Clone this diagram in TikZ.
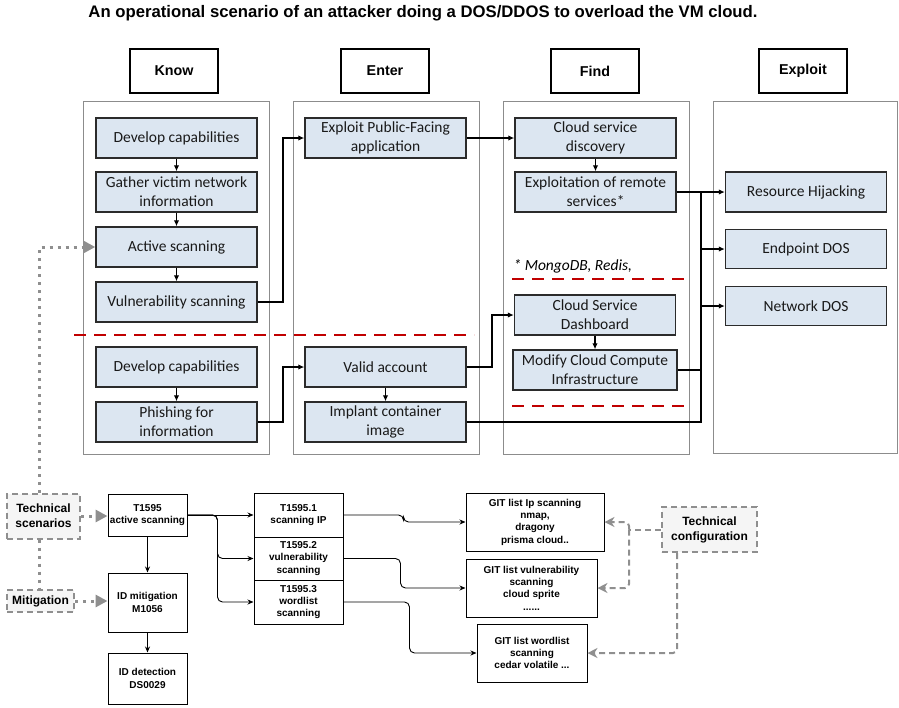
\documentclass[tikz,border=0pt]{standalone}
\usepackage{fontspec}
\setmainfont{Carlito}
\newfontfamily\labelfont{Liberation Sans}
\usetikzlibrary{arrows.meta}

\definecolor{stepfill}{HTML}{DCE6F1}
\definecolor{stepline}{HTML}{2B2B2B}
\definecolor{colline}{HTML}{8C8C8C}
\definecolor{riskred}{HTML}{C00000}
\definecolor{hintgray}{HTML}{8F8F8F}
\definecolor{notefill}{HTML}{F5F5F5}

\tikzset{
  phasebox/.style={draw, line width=2pt, minimum width=88pt, minimum height=44pt, inner sep=0pt,
    font=\labelfont\bfseries\fontsize{14.3}{17}\selectfont},
  column/.style={draw=colline, line width=1pt},
  stepbox/.style={draw=stepline, fill=stepfill, line width=1.4pt, minimum width=161pt,
    minimum height=40pt, inner sep=0pt, align=center, text=black!90,
    font=\fontsize{15.5}{19}\selectfont},
  flow/.style={line width=1.8pt, -{Latex[length=6pt,width=5.5pt]}},
  link/.style={line width=1.8pt},
  riskline/.style={draw=riskred, line width=2.6pt, dash pattern=on 12pt off 8pt},
  hint/.style={draw=hintgray, line width=3pt, dash pattern=on 3pt off 5pt},
  hintarrow/.style={hint, -{Triangle[length=12pt,width=12pt,fill=hintgray,sep=0pt]}},
  notebox/.style={draw=hintgray, fill=notefill, line width=2pt, dash pattern=on 6pt off 4pt,
    align=center, inner sep=0pt, font=\labelfont\bfseries\fontsize{12}{15}\selectfont},
  cfg/.style={draw=hintgray, line width=2pt, dash pattern=on 6pt off 4pt, rounded corners=4pt},
  cfgarrow/.style={cfg, -{Stealth[length=10pt,width=10pt,fill=hintgray]}},
  idbox/.style={draw, line width=1pt, align=center, inner sep=0pt,
    font=\labelfont\bfseries\fontsize{10}{12.3}\selectfont},
  thin/.style={line width=0.9pt, rounded corners=5pt, -{Stealth[length=6pt,width=5pt]}},
}

\begin{document}
\begin{tikzpicture}[x=1pt,y=-1pt]
\useasboundingbox (0,0) rectangle (899,707);

% title
\node[font=\labelfont\bfseries\fontsize{16.7}{20}\selectfont] (title) at (423,13)
  {An operational scenario of an attacker doing a DOS/DDOS to overload the VM cloud.};

% phase headers
\node[phasebox] (know)    at (174,71) {Know};
\node[phasebox] (enter)   at (385,71) {Enter};
\node[phasebox] (find)    at (595,71) {Find};
\node[phasebox] (exploit) at (803,71) {Exploit};

% phase columns
\draw[column] (83,101) rectangle (269,454);
\draw[column] (293,101) rectangle (479,454);
\draw[column] (503,101) rectangle (689,454);
\draw[column] (713,101) rectangle (897,453);

% Know
\node[stepbox] (k1) at (176.5,138) {Develop capabilities};
\node[stepbox] (k2) at (176.5,192) {Gather victim network\\information};
\node[stepbox] (k3) at (176.5,247) {Active scanning};
\node[stepbox] (k4) at (176.5,302) {Vulnerability scanning};
\node[stepbox] (k5) at (176.5,367) {Develop capabilities};
\node[stepbox] (k6) at (176.5,422) {Phishing for\\information};

% Enter
\node[stepbox] (e1) at (385.5,138) {Exploit Public-Facing\\application};
\node[stepbox] (e2) at (385.5,367) {Valid account};
\node[stepbox] (e3) at (385.5,422) {Implant container\\image};

% Find
\node[stepbox] (f1) at (595.5,138) {Cloud service\\discovery};
\node[stepbox] (f2) at (595.5,192) {Exploitation of remote\\services*};
\node[stepbox] (f3) at (595,315) {Cloud Service\\Dashboard};
\node[stepbox, minimum width=164pt] (f4) at (595,370) {Modify Cloud Compute\\Infrastructure};
\node[anchor=west, font=\itshape\fontsize{15.5}{19}\selectfont] (note) at (510,266) {* MongoDB, Redis,};

% Exploit
\node[stepbox] (x1) at (806,192) {Resource Hijacking};
\node[stepbox, minimum height=39pt] (x2) at (806,249) {Endpoint DOS};
\node[stepbox, minimum height=39pt] (x3) at (806,306) {Network DOS};

% separators between scenarios
\draw[riskline] (74,335) -- (474,335);
\draw[riskline] (512,279) -- (687,279);
\draw[riskline] (512,406) -- (687,406);

% flow inside columns
\draw[flow] (k1) -- (k2);
\draw[flow] (k2) -- (k3);
\draw[flow] (k3) -- (k4);
\draw[flow] (k5) -- (k6);
\draw[flow] (e2) -- (e3);
\draw[flow] (f1) -- (f2);
\draw[flow] (f3) -- (f4);

% flow between columns
\draw[flow] (k4.east) -- ++(25,0) |- (e1.west);
\draw[flow] (k6.east) -- ++(25,0) |- (e2.west);
\draw[flow] (e1.east) -- (f1.west |- e1.east);
\draw[flow] (e2.east) -- ++(25,0) |- (f3.west);
\coordinate (bus) at (701,0);
\draw[flow] (f2.east) -- (x1.west |- f2.east);
\draw[link] (e3.east) -- (e3.east -| bus) -- (f2.east -| bus);
\draw[link] (f4.east) -- (f4.east -| bus);
\draw[flow] (x2.west -| bus) -- (x2.west);
\draw[flow] (x3.west -| bus) -- (x3.west);

% technique breakdown
\node[idbox, minimum width=79pt, minimum height=42pt] (t0) at (147.5,515) {T1595\\active scanning};
\node[idbox, minimum width=79pt, minimum height=59pt] (m0) at (147.5,602.5) {ID mitigation\\M1056};
\node[idbox, minimum width=79pt, minimum height=51pt] (d0) at (147.5,678.5) {ID detection\\DS0029};
\node[idbox, minimum width=89pt, minimum height=44pt] (t1) at (298.5,515) {T1595.1\\scanning IP};
\node[idbox, minimum width=89pt, minimum height=43pt] (t2) at (298.5,558.5) {T1595.2\\vulnerability\\scanning};
\node[idbox, minimum width=89pt, minimum height=44pt] (t3) at (298.5,602) {T1595.3\\wordlist\\scanning};
\node[idbox, minimum width=138pt, minimum height=58pt] (g1) at (535,522) {GIT list Ip scanning\\nmap,\\dragony\\prisma cloud..};
\node[idbox, minimum width=131pt, minimum height=58pt] (g2) at (531.5,588) {GIT list vulnerability\\scanning\\cloud sprite\\......};
\node[idbox, minimum width=110pt, minimum height=58pt] (g3) at (532,653) {GIT list wordlist\\scanning\\cedar volatile ...};

\node[notebox, minimum width=73pt, minimum height=45pt] (ts) at (43.5,516) {Technical\\scenarios};
\node[notebox, minimum width=67pt, minimum height=22pt] (mi) at (40.5,601) {Mitigation};
\node[notebox, minimum width=95pt, minimum height=45pt] (tc) at (709.5,529.5) {Technical\\configuration};

\draw[thin] (t0.east) -- (t1.west);
\draw[thin] (t0.east) -- ++(30,0) |- (t2.west);
\draw[thin] (t0.east) -- ++(30,0) |- (t3.west);
\draw[thin] (t0) -- (m0);
\draw[thin] (m0) -- (d0);
\draw[thin] (t1.east) -- ++(60,0) |- (g1.west);
\draw[thin] (t2.east) -- ++(57,0) |- (g2.west);
\draw[thin] (t3.east) -- ++(66,0) |- (g3.west);

% scenario / mitigation hints
\draw[hintarrow] ([xshift=-4.5pt]ts.north) |- (k3.west);
\draw[hint] ([xshift=-4.5pt]ts.south) -- ([xshift=-1.5pt]mi.north);
\draw[hintarrow] (ts.east) -- (t0.west |- ts.east);
\draw[hintarrow] (mi.east) -- (m0.west |- mi.east);

% configuration hints
\draw[cfg] (tc.west) -- ++(-32,0) coordinate (tcj);
\draw[cfgarrow] (tcj) |- (g1.east);
\draw[cfgarrow] (tcj) |- (g2.east);
\draw[cfgarrow] ([xshift=-32.5pt]tc.south) |- (g3.east);
\end{tikzpicture}
\end{document}
